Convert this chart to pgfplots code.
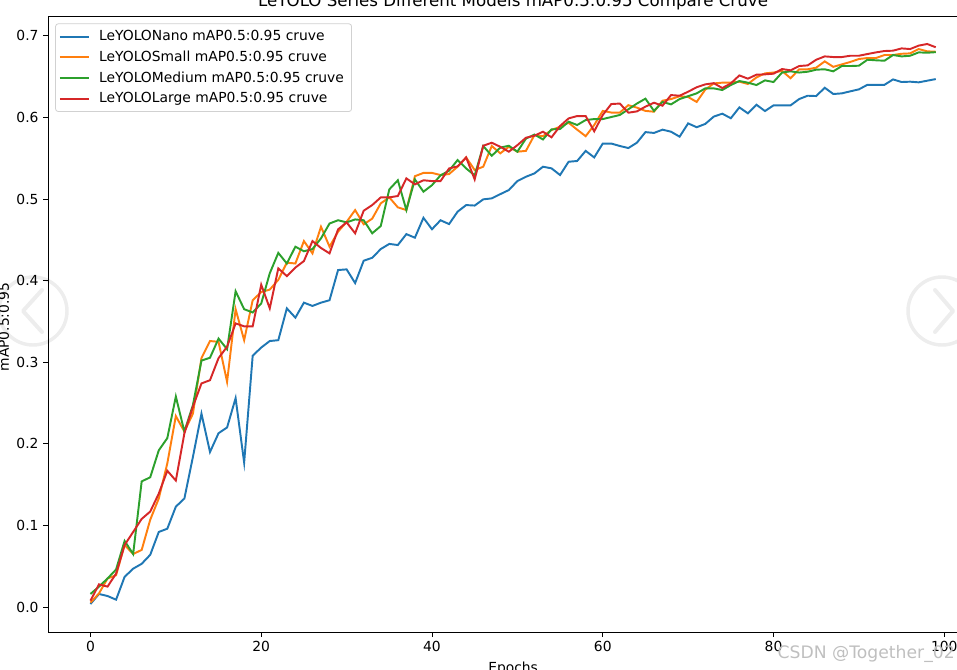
\documentclass[border=0pt]{standalone}
\usepackage{fontspec}
\setmainfont{DejaVu Sans}
\usepackage{pgfplots}
\usepackage{pgfplotstable}
\pgfplotsset{compat=1.18}
\definecolor{tabblue}{HTML}{1F77B4}
\definecolor{taborange}{HTML}{FF7F0E}
\definecolor{tabgreen}{HTML}{2CA02C}
\definecolor{tabred}{HTML}{D62728}
\pgfplotstableread{
i nano small medium large
0 .0037 .0053 .016 .0078
1 .016 .0167 .025 .0278
2 .0135 .035 .035 .025
3 .009 .039 .046 .041
4 .037 .076 .081 .076
5 .047 .065 .065 .092
6 .053 .070 .154 .108
7 .064 .107 .159 .117
8 .092 .133 .192 .139
9 .096 .176 .207 .167
10 .123 .234 .258 .155
11 .133 .215 .215 .2128
12 .184 .237 .2475 .2455
13 .237 .305 .302 .274
14 .190 .326 .3055 .278
15 .213 .325 .329 .305
16 .220 .276 .316 .319
17 .256 .365 .387 .3476
18 .177 .327 .365 .344
19 .308 .376 .361 .344
20 .318 .386 .372 .395
21 .326 .389 .409 .366
22 .327 .401 .434 .415
23 .366 .422 .421 .4056
24 .3546 .421 .4416 .416
25 .373 .4485 .436 .424
26 .369 .4334 .4387 .4485
27 .373 .466 .4518 .440
28 .376 .4416 .470 .4334
29 .413 .460 .474 .4628
30 .4138 .472 .4714 .4714
31 .397 .4865 .475 .458
32 .4244 .469 .474 .4857
33 .428 .476 .458 .4926
34 .4387 .4947 .4669 .502
35 .445 .502 .5118 .502
36 .4436 .4898 .523 .5037
37 .457 .4865 .4865 .5253
38 .4526 .528 .524 .518
39 .477 .532 .509 .523
40 .463 .532 .517 .522
41 .474 .5294 .529 .522
42 .4693 .5306 .5347 .5375
43 .4845 .5396 .5478 .540
44 .4926 .551 .5375 .551
45 .492 .5355 .529 .524
46 .4996 .5396 .565 .5653
47 .5008 .565 .553 .569
48 .506 .556 .563 .564
49 .511 .564 .5653 .558
50 .522 .558 .558 .566
51 .5273 .559 .574 .5751
52 .5314 .5784 .579 .5776
53 .5396 .577 .573 .5825
54 .5376 .5846 .5854 .5756
55 .5294 .5886 .5858 .5895
56 .5457 .5935 .5948 .5988
57 .5466 .585 .5907 .6017
58 .559 .577 .5968 .6017
59 .551 .5907 .598 .583
60 .568 .608 .598 .603
61 .568 .606 .6005 .6164
62 .565 .606 .603 .617
63 .5625 .615 .610 .6058
64 .569 .612 .617 .6074
65 .582 .608 .623 .6132
66 .581 .607 .608 .618
67 .585 .6205 .619 .6144
68 .5825 .6225 .616 .6274
69 .5764 .626 .6225 .6266
70 .5927 .625 .626 .6315
71 .588 .619 .6295 .637
72 .592 .634 .6356 .6405
73 .601 .6417 .6356 .642
74 .6046 .6426 .6336 .636
75 .599 .6426 .6397 .6417
76 .6123 .6438 .6446 .6515
77 .605 .641 .6426 .6475
78 .6156 .649 .6397 .6524
79 .6078 .654 .6454 .6528
80 .6148 .655 .6434 .6536
81 .6148 .657 .655 .6593
82 .6148 .648 .6565 .6577
83 .6225 .659 .655 .663
84 .6266 .659 .656 .6638
85 .6262 .661 .6585 .6707
86 .6364 .6687 .659 .6748
87 .6287 .662 .6565 .674
88 .6295 .665 .663 .674
89 .632 .668 .663 .6756
90 .6344 .6716 .6634 .6756
91 .640 .6728 .6707 .6777
92 .640 .6728 .670 .6797
93 .640 .6765 .6695 .6814
94 .6466 .6765 .6765 .6818
95 .6434 .678 .6748 .6846
96 .6438 .6785 .6756 .6838
97 .643 .6838 .6797 .688
98 .645 .681 .6793 .690
99 .647 .6805 .680 .686
}\mydata
\begin{document}
\fontsize{10.4}{12.5}\selectfont
\begin{tikzpicture}[x=0.75pt,y=0.75pt]
\path[use as bounding box,clip] (0,0) rectangle (957,669);
\begin{axis}[
  at={(36.15pt,27.75pt)},anchor=south west,
  scale only axis,width=697.35pt,height=462pt,
  xmin=-4.95,xmax=103.95,ymin=-0.0306,ymax=0.7243,
  xtick={0,20,40,60,80,100},ytick={0,0.1,...,0.7},
  tick align=outside,tick pos=left,
  major tick length=3.6pt,
  every tick/.style={black,line width=0.6pt},
  axis line style={black,line width=0.6pt},
  /pgf/number format/assume math mode=true,
  xticklabel style={/pgf/number format/fixed},
  yticklabel style={/pgf/number format/fixed,/pgf/number format/fixed zerofill,/pgf/number format/precision=1},
  tick label style={font=\fontsize{10.4}{12.5}\selectfont},
  label style={font=\fontsize{10.4}{12.5}\selectfont},
  title style={font=\fontsize{12.5}{15}\selectfont,yshift=-5.5pt},
  title={LeYOLO Series Different Models mAP0.5:0.95 Compare Cruve},
  xlabel={Epochs},ylabel={mAP0.5:0.95},
  xlabel style={yshift=-0.5pt},
  ylabel style={yshift=-1.5pt,xshift=-2.2pt},
  legend cell align=left,
  legend image code/.code={\draw[#1] (0cm,0cm) -- (21.75pt,0cm);\path (25.5pt,0cm);},
  legend style={at={(0.0075,0.988)},anchor=north west,draw=black!18,rounded corners=2pt,
    line width=0.6pt,font=\fontsize{10.4}{12.5}\selectfont,row sep=1.7pt,inner xsep=2.5pt,inner ysep=2.8pt,
    nodes={inner xsep=3.2pt,inner ysep=2.2pt}},
  clip=true,
]
\addplot[tabblue,line width=1.45pt] table[x=i,y=nano]{\mydata};
\addlegendentry{LeYOLONano mAP0.5:0.95 cruve}
\addplot[taborange,line width=1.45pt] table[x=i,y=small]{\mydata};
\addlegendentry{LeYOLOSmall mAP0.5:0.95 cruve}
\addplot[tabgreen,line width=1.45pt] table[x=i,y=medium]{\mydata};
\addlegendentry{LeYOLOMedium mAP0.5:0.95 cruve}
\addplot[tabred,line width=1.45pt] table[x=i,y=large]{\mydata};
\addlegendentry{LeYOLOLarge mAP0.5:0.95 cruve}
\end{axis}
% page overlays of the reference screenshot
\draw[black,draw opacity=0.07,line width=2.6pt] (33,358) circle (34);
\draw[black,draw opacity=0.07,line width=3pt,line cap=round,line join=round] (42,379) -- (23,358) -- (42,337);
\draw[black,draw opacity=0.07,line width=2.6pt] (942,358) circle (34);
\draw[black,draw opacity=0.07,line width=3pt,line cap=round,line join=round] (935,379) -- (953,358) -- (935,337);
\node[anchor=base east,inner sep=0pt,text=black!25,font=\fontsize{12.9}{15}\selectfont] at (955,11) {CSDN @Together\_02};
\end{tikzpicture}
\end{document}
